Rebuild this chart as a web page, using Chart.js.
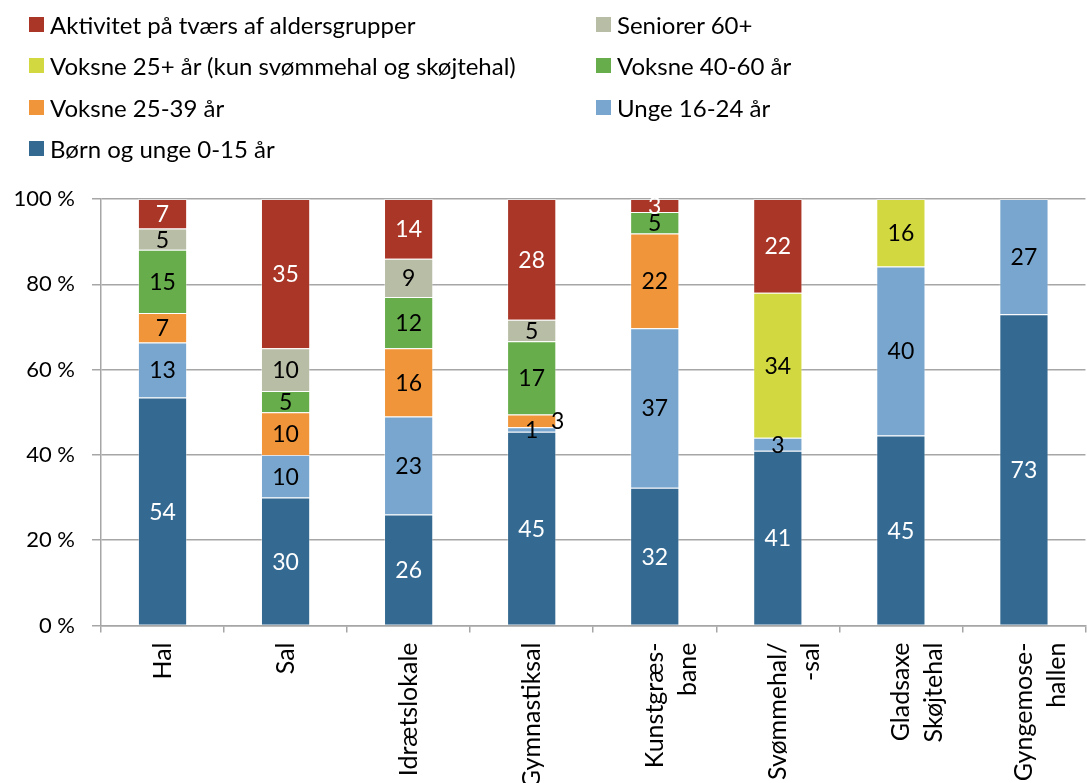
<!DOCTYPE html>
<html>
<head>
<meta charset="utf-8">
<script src="https://cdn.jsdelivr.net/npm/chart.js@4.4.1/dist/chart.umd.min.js"></script>
<style>
	html, body { margin: 0; padding: 0; background: #fff; overflow: hidden; }
	#wrap { position: relative; width: 1087px; height: 783px; overflow: hidden; }
	#cnv { position: absolute; left: 0; top: 0; }
	#legend { position: absolute; left: 0; top: 0; font-family: Lato, sans-serif; font-size: 24px; color: #000; }
	.item { position: absolute; display: flex; align-items: center; height: 30px; white-space: nowrap; }
	.box { width: 15px; height: 15px; margin-right: 6px; }
</style>
</head>
<body>
<div id="wrap">
	<canvas id="cnv" width="1100" height="783"></canvas>
	<div id="legend"></div>
</div>
<script>
// categories (x axis)
var kategorier = ["Hal", "Sal", "Idrætslokale", "Gymnastiksal", ["Kunstgræs-", "bane"], ["Svømmehal/", "-sal"], ["Gladsaxe", "Skøjtehal"], ["Gyngemose-", "hallen"]];

// series values (as printed in the bars)
var born     = [54, 30, 26, 45, 32, 41, 45, 73];
var unge     = [13, 10, 23, 1, 37, 3, 40, 27];
var v2539    = [7, 10, 16, 3, 22, null, null, null];
var v4060    = [15, 5, 12, 17, 5, null, null, null];
var v25plus  = [null, null, null, null, null, 34, 16, null];
var seniorer = [5, 10, 9, 5, null, null, null, null];
var aktivitet = [7, 35, 14, 28, 3, 22, null, null];

// y axis ticks
var yTicks = [0, 20, 40, 60, 80, 100];

var serier = [
	{ navn: "Børn og unge 0-15 år", data: born, farve: "#346a92", tekst: "#fff" },
	{ navn: "Unge 16-24 år", data: unge, farve: "#79a6cf", tekst: "#000" },
	{ navn: "Voksne 25-39 år", data: v2539, farve: "#f0953a", tekst: "#000" },
	{ navn: "Voksne 40-60 år", data: v4060, farve: "#67ad4b", tekst: "#000" },
	{ navn: "Voksne 25+ år (kun svømmehal og skøjtehal)", data: v25plus, farve: "#d2d840", tekst: "#000" },
	{ navn: "Seniorer 60+", data: seniorer, farve: "#b8bda6", tekst: "#000" },
	{ navn: "Aktivitet på tværs af aldersgrupper", data: aktivitet, farve: "#a93626", tekst: "#fff" }
];

// column totals, so each bar is stacked to 100 %
var total = kategorier.map(function(k, i){
	var s = 0;
	serier.forEach(function(se){ s += se.data[i] || 0; });
	return s;
});

// legend (two columns, reversed order like the original)
var legendOrder = [6, 5, 4, 3, 2, 1, 0];
var legendEl = document.getElementById("legend");
legendOrder.forEach(function(idx, n){
	var row = Math.floor(n / 2), col = n % 2;
	var d = document.createElement("div");
	d.className = "item";
	d.style.left = (col === 0 ? 29 : 596) + "px";
	d.style.top = (24.5 + row * 41.3 - 15) + "px";
	d.innerHTML = '<span class="box" style="background:' + serier[idx].farve + '"></span>' + serier[idx].navn;
	legendEl.appendChild(d);
});

var labelPlugin = {
	id: "barLabels",
	afterDatasetsDraw: function(chart){
		var ctx = chart.ctx;
		ctx.save();
		ctx.font = "23px Lato";
		ctx.textAlign = "center";
		ctx.textBaseline = "middle";
		chart.data.datasets.forEach(function(ds, di){
			var meta = chart.getDatasetMeta(di);
			meta.data.forEach(function(bar, i){
				var v = ds.raw[i];
				if (v === null || v === undefined) return;
				var x = bar.x, y = (bar.y + bar.base) / 2 + 1;
				// the small orange label in Gymnastiksal sits beside the bar
				if (di === 2 && i === 3) { x += 26; }
				ctx.fillStyle = ds.tekst;
				ctx.fillText(String(v), x, y);
			});
		});
		ctx.restore();
	}
};

document.fonts.load("23px Lato").then(function(){
	Chart.defaults.font.family = "Lato";
	Chart.defaults.color = "#000";

	var datasets = serier.map(function(se){
		return {
			label: se.navn,
			raw: se.data,
			tekst: se.tekst,
			data: se.data.map(function(v, i){ return v === null ? null : v / total[i] * 100; }),
			backgroundColor: se.farve,
			borderColor: "rgba(255,255,255,0.35)",
			borderWidth: 1,
			barPercentage: 0.4,
			categoryPercentage: 1
		};
	});

	new Chart(document.getElementById("cnv").getContext("2d"), {
		type: "bar",
		data: { labels: kategorier, datasets: datasets },
		options: {
			responsive: false,
			animation: false,
			devicePixelRatio: 1,
			layout: { padding: { top: 199, right: 1, left: 0, bottom: 0 } },
			plugins: { legend: { display: false }, tooltip: { enabled: false } },
			scales: {
				x: {
					stacked: true,
					grid: { drawOnChartArea: false, drawTicks: true, tickLength: 7, color: "#a6a6a6", lineWidth: 1.5 },
					border: { color: "#a6a6a6", width: 1.5 },
					ticks: { minRotation: 90, maxRotation: 90, autoSkip: false, padding: 10, font: { size: 25, lineHeight: 1.32 }, color: "#000" },
					afterFit: function(s){ s.height = 157.5; }
				},
				y: {
					stacked: true,
					min: 0, max: 100,
					afterBuildTicks: function(s){ s.ticks = yTicks.map(function(v){ return { value: v }; }); },
					grid: { color: "#a6a6a6", lineWidth: 1.5, tickLength: 9 },
					border: { color: "#a6a6a6", width: 1.5 },
					ticks: { padding: 17, font: { size: 22 }, color: "#000", callback: function(v){ return v + " %"; } },
					afterFit: function(s){ s.width = 101; }
				}
			}
		},
		plugins: [labelPlugin]
	});
});
</script>
</body>
</html>
